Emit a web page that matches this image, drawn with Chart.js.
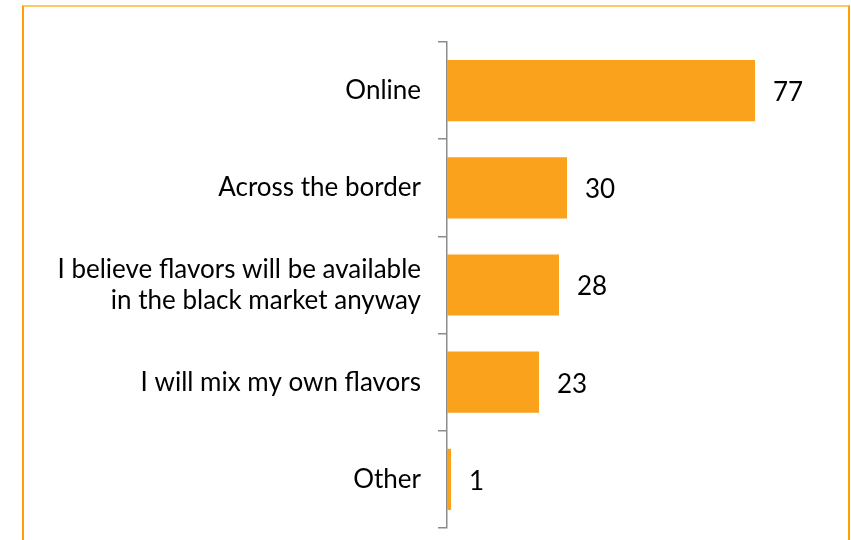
<!DOCTYPE html>
<html><head><meta charset="utf-8">
<script src="https://cdn.jsdelivr.net/npm/chart.js@4/dist/chart.umd.min.js"></script>
<style>
html,body{margin:0;padding:0;background:#fff;width:851px;height:540px;overflow:hidden;}
#frame{position:absolute;left:22px;top:5px;width:824px;height:600px;border-left:2px solid #FFA000;border-right:2px solid #FFA000;border-top:2px solid #FFC766;}
#wrap{position:absolute;left:0;top:0;width:851px;height:540px;}
</style></head><body>
<div id="frame"></div>
<div id="wrap"><canvas id="c" width="851" height="540"></canvas></div>
<script>
const categories = ["Online","Across the border",["I believe flavors will be available","in the black market anyway"],"I will mix my own flavors","Other"];
const values = [77,30,28,23,1];
const xMax = 100;

const valueLabels = {
  id:'valueLabels',
  afterDatasetsDraw(chart){
    const ctx = chart.ctx;
    const meta = chart.getDatasetMeta(0);
    ctx.save();
    ctx.font = '26px Lato';
    ctx.fillStyle = '#000';
    ctx.textAlign = 'left';
    ctx.textBaseline = 'middle';
    meta.data.forEach((bar,i)=>{
      ctx.fillText(String(values[i]), bar.x + 18, bar.y + 2);
    });
    ctx.restore();
  }
};

new Chart(document.getElementById('c'),{
  type:'bar',
  data:{labels:categories,datasets:[{data:values,backgroundColor:'#FAA21B',borderWidth:0,categoryPercentage:1,barPercentage:0.63}]},
  options:{
    indexAxis:'y',responsive:false,animation:false,
    layout:{padding:{left:0,top:42,bottom:12,right:4}},
    plugins:{legend:{display:false},tooltip:{enabled:false}},
    scales:{
      x:{display:false,min:0,max:xMax},
      y:{
        afterFit(s){s.width=447;s.paddingTop=0;s.paddingBottom=0;},
        grid:{display:true,drawOnChartArea:false,drawTicks:true,tickLength:9,color:'#8c8c8c',lineWidth:1.5,offset:true},
        border:{display:true,color:'#8c8c8c',width:1.5},
        ticks:{color:'#000',font:{family:'Lato',size:26,lineHeight:1.2},padding:17}
      }
    }
  },
  plugins:[valueLabels]
});
</script>
</body></html>
